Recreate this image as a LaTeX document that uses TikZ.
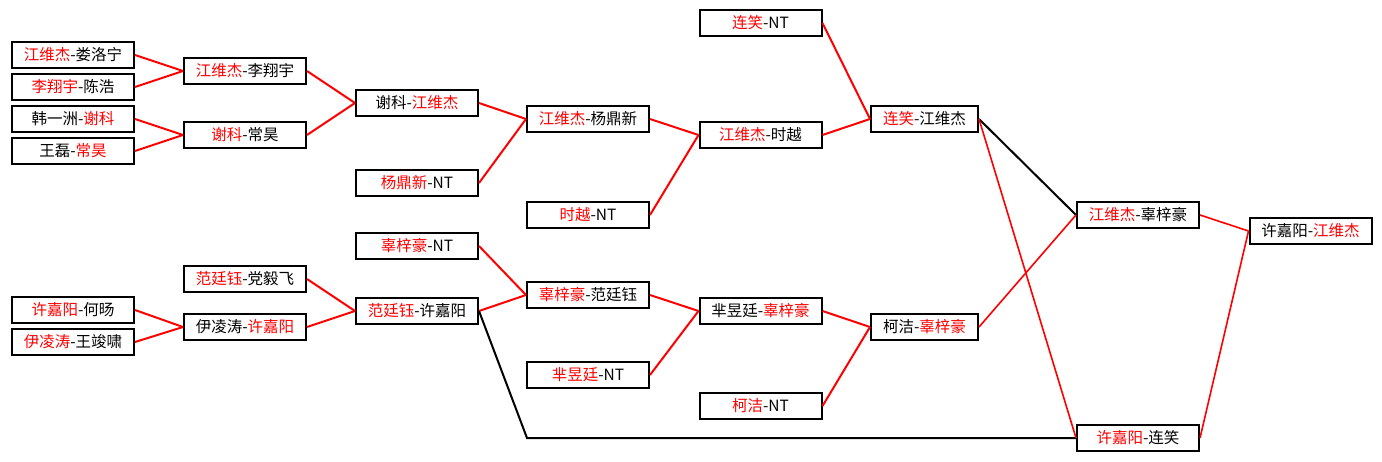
\documentclass[tikz,border=0pt]{standalone}
\usepackage{fontspec}
\setmainfont{Noto Sans CJK SC}
\usepackage{tikz}
\usetikzlibrary{calc}
\usepackage{xcolor}

\newcommand{\winner}[1]{\textcolor{red}{#1}}

\begin{document}
\begin{tikzpicture}[
    x=1pt, y=-1pt,
    font=\fontsize{15.5pt}{17pt}\selectfont,
    game/.style={draw, line width=2pt, inner sep=0pt, minimum width=122pt, minimum height=26pt, fill=white},
    semi/.style={game, minimum width=107pt},
    line/.style={red, line width=2pt},
    fline/.style={red, line width=1.6pt},
    lost/.style={black, line width=2pt}
]

\useasboundingbox (0,0) rectangle (1382,461);

% Round 1
\node[game] (a1) at (73,55)  {\winner{江维杰}-娄洛宁};
\node[game] (a2) at (73,87)  {\winner{李翔宇}-陈浩};
\node[game] (a3) at (73,119) {韩一洲-\winner{谢科}};
\node[game] (a4) at (73,151) {王磊-\winner{常昊}};
\node[game] (a5) at (73,310) {\winner{许嘉阳}-何旸};
\node[game] (a6) at (73,342) {\winner{伊凌涛}-王竣啸};

% Round 2
\node[game] (b1) at (245,71)  {\winner{江维杰}-李翔宇};
\node[game] (b2) at (245,135) {\winner{谢科}-常昊};
\node[game] (b3) at (245,279) {\winner{范廷钰}-党毅飞};
\node[game] (b4) at (245,327) {伊凌涛-\winner{许嘉阳}};

% Round 3
\node[game] (c1) at (417,103) {谢科-\winner{江维杰}};
\node[game] (c2) at (417,183) {\winner{杨鼎新}-NT};
\node[game] (c3) at (417,246) {\winner{辜梓豪}-NT};
\node[game] (c4) at (417,311) {\winner{范廷钰}-许嘉阳};

% Round 4
\node[game] (d1) at (588,119) {\winner{江维杰}-杨鼎新};
\node[game] (d2) at (588,215) {\winner{时越}-NT};
\node[game] (d3) at (588,295) {\winner{辜梓豪}-范廷钰};
\node[game] (d4) at (588,375) {\winner{芈昱廷}-NT};

% Round 5
\node[game] (e0) at (760.5,23)  {\winner{连笑}-NT};
\node[game] (e1) at (760.5,135) {\winner{江维杰}-时越};
\node[game] (e2) at (760.5,311) {芈昱廷-\winner{辜梓豪}};
\node[game] (e3) at (760.5,406) {\winner{柯洁}-NT};

% Semifinals
\node[semi] (f1) at (924.5,119) {\winner{连笑}-江维杰};
\node[semi] (f2) at (924.5,327) {柯洁-\winner{辜梓豪}};

% Finals
\node[game] (g1) at (1138,215) {\winner{江维杰}-辜梓豪};
\node[game] (g2) at (1138,438) {\winner{许嘉阳}-连笑};
\node[game] (h)  at (1310.5,231) {许嘉阳-\winner{江维杰}};

\coordinate (bend) at (527,438);

% Connections
\draw[line] (a1.east) -- (b1.west);
\draw[line] (a2.east) -- (b1.west);
\draw[line] (a3.east) -- (b2.west);
\draw[line] (a4.east) -- (b2.west);
\draw[line] (a5.east) -- (b4.west);
\draw[line] (a6.east) -- (b4.west);

\draw[line] (b1.east) -- (c1.west);
\draw[line] (b2.east) -- (c1.west);
\draw[line] (b3.east) -- (c4.west);
\draw[line] (b4.east) -- (c4.west);

\draw[line] (c1.east) -- (d1.west);
\draw[line] (c2.east) -- (d1.west);
\draw[line] (c3.east) -- (d3.west);
\draw[line] (c4.east) -- (d3.west);

\draw[line] (d1.east) -- (e1.west);
\draw[line] (d2.east) -- (e1.west);
\draw[line] (d3.east) -- (e2.west);
\draw[line] (d4.east) -- (e2.west);

\draw[line] (e0.east) -- (f1.west);
\draw[line] (e1.east) -- (f1.west);
\draw[line] (e2.east) -- (f2.west);
\draw[line] (e3.east) -- (f2.west);

% losers' side in black
\draw[lost] (f1.east) -- (g1.west);
\draw[lost] (c4.east) -- (bend) -- (g2.west);

\draw[fline] (f1.east) -- (g2.west);
\draw[fline] (f2.east) -- (g1.west);
\draw[fline] (g1.east) -- (h.west);
\draw[fline] (g2.east) -- (h.west);

\end{tikzpicture}
\end{document}
